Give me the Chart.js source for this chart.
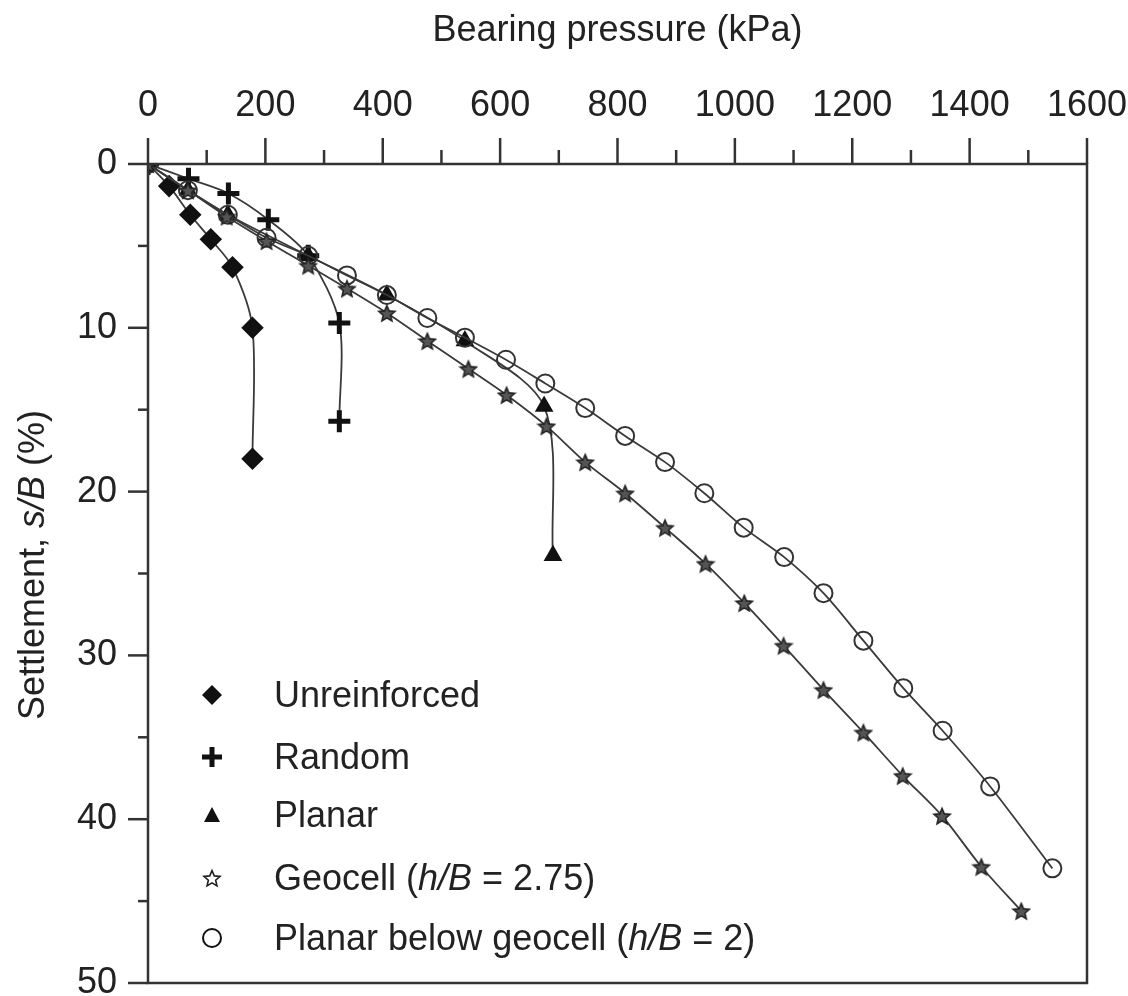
<!DOCTYPE html>
<html>
<head>
<meta charset="utf-8">
<script src="https://cdn.jsdelivr.net/npm/chart.js@4.4.1/dist/chart.umd.min.js"></script>
<style>
  html, body { margin: 0; padding: 0; background: #fff; }
  #wrap { width: 1128px; height: 996px; }
</style>
</head>
<body>
<div id="wrap"><canvas id="chart"></canvas></div>
<script>
// values: bearing pressure (kPa) vs settlement s/B (%)
const unreinforcedP = [0, 36, 72, 107, 144, 178, 178];
const unreinforcedS = [0, 1.35, 3.1, 4.6, 6.3, 10.0, 18.0];

const randomP = [0, 69, 137, 205, 273, 326, 326];
const randomS = [0, 0.9, 1.8, 3.4, 5.6, 9.7, 15.7];

const planarP = [0, 68, 136, 273, 407, 540, 675, 690];
const planarS = [0, 1.6, 3.1, 5.6, 8.0, 10.8, 14.8, 23.9];

const geocellP = [0, 68, 134, 202, 273, 339, 407, 476, 546, 611, 679, 745, 813, 881, 950, 1016, 1083, 1151, 1219, 1286, 1353, 1420, 1488];
const geocellS = [0, 1.6, 3.2, 4.7, 6.2, 7.6, 9.1, 10.8, 12.5, 14.1, 16.0, 18.2, 20.1, 22.2, 24.4, 26.8, 29.4, 32.1, 34.7, 37.35, 39.8, 42.9, 45.6];

const belowP = [0, 68, 136, 202, 273, 339, 407, 476, 540, 610, 677, 745, 813, 881, 948, 1015, 1084, 1151, 1219, 1287, 1354, 1435, 1541];
const belowS = [0, 1.6, 3.1, 4.5, 5.6, 6.8, 8.0, 9.4, 10.6, 11.95, 13.4, 14.9, 16.6, 18.2, 20.1, 22.2, 24.0, 26.2, 29.1, 32.0, 34.6, 38.0, 43.0];

const xTicks = [0, 200, 400, 600, 800, 1000, 1200, 1400, 1600];
const yTicks = [0, 10, 20, 30, 40, 50];

const FONT = '"Liberation Sans", Arial, Helvetica, sans-serif';
const INK = '#222';
const LINE = '#3a3a3a';

function pts(xs, ys) {
  return xs.map((x, i) => ({ x: x, y: ys[i] }));
}

// five-pointed star marker drawn into a small canvas
function starImage(size, fill, stroke) {
  const c = document.createElement('canvas');
  c.width = size; c.height = size;
  const g = c.getContext('2d');
  const cx = size / 2, cy = size / 2 + 1, R = size / 2 - 1.5, r = R * 0.45;
  g.beginPath();
  for (let i = 0; i < 10; i++) {
    const rad = i % 2 ? r : R;
    const a = -Math.PI / 2 + i * Math.PI / 5;
    const px = cx + rad * Math.cos(a), py = cy + rad * Math.sin(a);
    if (i) g.lineTo(px, py); else g.moveTo(px, py);
  }
  g.closePath();
  g.fillStyle = fill; g.fill();
  g.lineWidth = 1.6; g.strokeStyle = stroke; g.stroke();
  return c;
}
const starPlot = starImage(20, '#555', '#222');
const starLegend = starImage(20, '#fff', '#222');

const ticksAndBox = {
  id: 'ticksAndBox',
  afterDraw(chart) {
    const { ctx, chartArea: a } = chart;
    const xs = chart.scales.x, ys = chart.scales.y;
    ctx.save();
    ctx.strokeStyle = '#333';
    ctx.lineWidth = 2.5;
    ctx.strokeRect(a.left, a.top, a.right - a.left, a.bottom - a.top);
    for (let v = 0; v <= 1600; v += 100) {
      const px = xs.getPixelForValue(v);
      const len = v % 200 === 0 ? 26 : 14;
      ctx.beginPath();
      ctx.moveTo(px, a.top);
      ctx.lineTo(px, a.top - len);
      ctx.stroke();
    }
    for (let v = 0; v <= 50; v += 5) {
      const py = ys.getPixelForValue(v);
      const len = v % 10 === 0 ? 20 : 10;
      ctx.beginPath();
      ctx.moveTo(a.left, py);
      ctx.lineTo(a.left - len, py);
      ctx.stroke();
    }
    ctx.restore();
  }
};

function drawParts(ctx, parts, x, y) {
  let cx = x;
  parts.forEach(p => {
    ctx.font = (p.it ? 'italic ' : '') + '36px ' + FONT;
    ctx.fillText(p.t, cx, y);
    cx += ctx.measureText(p.t).width;
  });
}
function partsWidth(ctx, parts) {
  let w = 0;
  parts.forEach(p => {
    ctx.font = (p.it ? 'italic ' : '') + '36px ' + FONT;
    w += ctx.measureText(p.t).width;
  });
  return w;
}

const legendRows = [
  { kind: 'diamond', parts: [{ t: 'Unreinforced' }] },
  { kind: 'plus', parts: [{ t: 'Random' }] },
  { kind: 'triangle', parts: [{ t: 'Planar' }] },
  { kind: 'star', parts: [{ t: 'Geocell (' }, { t: 'h/B', it: true }, { t: ' = 2.75)' }] },
  { kind: 'circle', parts: [{ t: 'Planar below geocell (' }, { t: 'h/B', it: true }, { t: ' = 2)' }] }
];

const textPlugin = {
  id: 'textPlugin',
  afterDraw(chart) {
    const ctx = chart.ctx;
    ctx.save();
    ctx.fillStyle = INK;
    ctx.textBaseline = 'alphabetic';
    // y axis title, rotated
    const yParts = [{ t: 'Settlement, ' }, { t: 's/B', it: true }, { t: ' (%)' }];
    const w = partsWidth(ctx, yParts);
    ctx.save();
    ctx.translate(44, 565);
    ctx.rotate(-Math.PI / 2);
    drawParts(ctx, yParts, -w / 2, 0);
    ctx.restore();

    // legend
    const mx = 212, tx = 274;
    const rowY = [695, 757, 815, 878, 938];
    legendRows.forEach((row, i) => {
      const y = rowY[i];
      ctx.fillStyle = '#111';
      ctx.strokeStyle = '#111';
      if (row.kind === 'diamond') {
        ctx.beginPath();
        ctx.moveTo(mx, y - 10); ctx.lineTo(mx + 10, y); ctx.lineTo(mx, y + 10); ctx.lineTo(mx - 10, y);
        ctx.closePath(); ctx.fill();
      } else if (row.kind === 'plus') {
        ctx.lineWidth = 5;
        ctx.beginPath();
        ctx.moveTo(mx - 10, y); ctx.lineTo(mx + 10, y);
        ctx.moveTo(mx, y - 10); ctx.lineTo(mx, y + 10);
        ctx.stroke();
      } else if (row.kind === 'triangle') {
        ctx.beginPath();
        ctx.moveTo(mx, y - 8); ctx.lineTo(mx + 8, y + 7); ctx.lineTo(mx - 8, y + 7);
        ctx.closePath(); ctx.fill();
      } else if (row.kind === 'star') {
        ctx.drawImage(starLegend, mx - 10, y - 10);
      } else {
        ctx.lineWidth = 2;
        ctx.beginPath();
        ctx.arc(mx, y, 9, 0, Math.PI * 2);
        ctx.stroke();
      }
      ctx.fillStyle = INK;
      drawParts(ctx, row.parts, tx, y + 12);
    });
    ctx.restore();
  }
};

function noPad(scale) {
  scale.paddingLeft = 0; scale.paddingRight = 0;
  scale.paddingTop = 0; scale.paddingBottom = 0;
}

const common = {
  showLine: true,
  borderColor: LINE,
  borderWidth: 1.8,
  tension: 0.3
};

new Chart(document.getElementById('chart'), {
  type: 'scatter',
  data: {
    datasets: [
      Object.assign({}, common, {
        label: 'Geocell (h/B = 2.75)',
        data: pts(geocellP, geocellS),
        pointStyle: starPlot,
        pointRadius: 10
      }),
      Object.assign({}, common, {
        label: 'Planar below geocell (h/B = 2)',
        data: pts(belowP, belowS),
        pointStyle: 'circle',
        pointRadius: 9,
        pointBorderWidth: 2,
        pointBorderColor: '#333',
        pointBackgroundColor: 'rgba(0,0,0,0)'
      }),
      Object.assign({}, common, {
        label: 'Planar',
        data: pts(planarP, planarS),
        pointStyle: 'triangle',
        pointRadius: 9,
        pointBorderColor: '#111',
        pointBackgroundColor: '#111'
      }),
      Object.assign({}, common, {
        label: 'Random',
        data: pts(randomP, randomS),
        pointStyle: 'cross',
        pointRadius: 11,
        pointBorderWidth: 5,
        pointBorderColor: '#111'
      }),
      Object.assign({}, common, {
        label: 'Unreinforced',
        data: pts(unreinforcedP, unreinforcedS),
        pointStyle: 'rectRot',
        pointRadius: 10,
        pointBorderColor: '#111',
        pointBackgroundColor: '#111'
      })
    ]
  },
  options: {
    responsive: true,
    maintainAspectRatio: false,
    animation: false,
    layout: { autoPadding: false, padding: { left: 0, right: 41, top: 0, bottom: 13 } },
    plugins: {
      legend: { display: false },
      tooltip: { enabled: false }
    },
    scales: {
      x: {
        type: 'linear',
        position: 'top',
        min: 0,
        max: 1600,
        afterBuildTicks(scale) { scale.ticks = xTicks.map(v => ({ value: v })); },
        afterFit(scale) { scale.height = 164; noPad(scale); },
        grid: { display: false, drawTicks: false },
        border: { display: false },
        ticks: {
          color: INK, font: { family: FONT, size: 36 }, padding: 36, maxRotation: 0,
          callback: v => String(v)
        },
        title: {
          display: true,
          text: 'Bearing pressure (kPa)',
          color: INK,
          font: { family: FONT, size: 36 },
          padding: { top: 9, bottom: 0 }
        }
      },
      y: {
        type: 'linear',
        reverse: true,
        min: 0,
        max: 50,
        afterBuildTicks(scale) { scale.ticks = yTicks.map(v => ({ value: v })); },
        afterFit(scale) { scale.width = 148; noPad(scale); },
        grid: { display: false, drawTicks: false },
        border: { display: false },
        ticks: { color: INK, font: { family: FONT, size: 36 }, padding: 31, callback: v => String(v) }
      }
    }
  },
  plugins: [ticksAndBox, textPlugin]
});
</script>
</body>
</html>
